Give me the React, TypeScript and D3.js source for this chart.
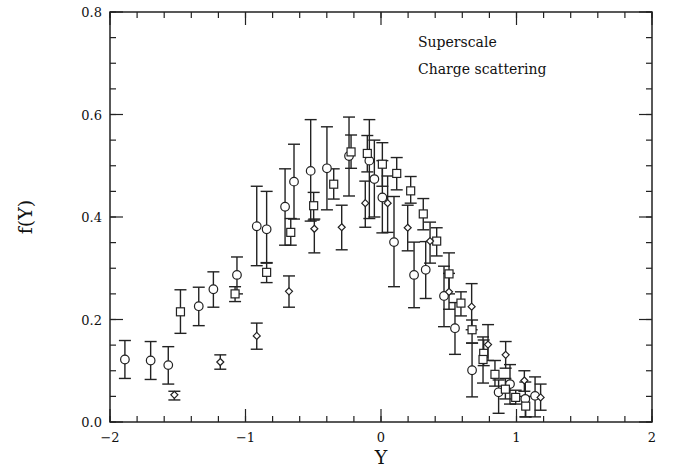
import React from "react";
import * as d3 from "d3";

const xTicks = [-2, -1, 0, 1, 2];
const yTicks = [0.0, 0.2, 0.4, 0.6, 0.8];
const legendLines = ["Superscale", "Charge scattering"];

// [x, y, low, high]
const circles: number[][] = [
  [-1.89, 0.122, 0.085, 0.159],
  [-1.70, 0.120, 0.083, 0.157],
  [-1.57, 0.111, 0.074, 0.147],
  [-1.345, 0.226, 0.188, 0.263],
  [-1.237, 0.259, 0.224, 0.293],
  [-1.063, 0.287, 0.25, 0.322],
  [-0.917, 0.382, 0.305, 0.46],
  [-0.844, 0.376, 0.311, 0.45],
  [-0.708, 0.42, 0.345, 0.494],
  [-0.642, 0.469, 0.396, 0.542],
  [-0.519, 0.49, 0.392, 0.59],
  [-0.399, 0.495, 0.414, 0.576],
  [-0.236, 0.519, 0.441, 0.595],
  [-0.086, 0.51, 0.397, 0.59],
  [-0.049, 0.474, 0.40, 0.55],
  [0.01, 0.438, 0.369, 0.51],
  [0.096, 0.351, 0.264, 0.44],
  [0.244, 0.287, 0.223, 0.351],
  [0.33, 0.297, 0.241, 0.352],
  [0.465, 0.246, 0.186, 0.304],
  [0.546, 0.183, 0.132, 0.233],
  [0.672, 0.101, 0.049, 0.154],
  [0.868, 0.058, 0.017, 0.082],
  [0.952, 0.074, 0.035, 0.112],
  [1.065, 0.045, 0.01, 0.078],
  [1.137, 0.051, 0.01, 0.088],
];

const squares: number[][] = [
  [-1.48, 0.215, 0.173, 0.258],
  [-1.077, 0.25, 0.235, 0.264],
  [-0.844, 0.292, 0.272, 0.31],
  [-0.666, 0.37, 0.345, 0.397],
  [-0.497, 0.422, 0.394, 0.448],
  [-0.349, 0.464, 0.435, 0.494],
  [-0.221, 0.527, 0.495, 0.56],
  [-0.101, 0.524, 0.488, 0.559],
  [0.01, 0.503, 0.46, 0.545],
  [0.116, 0.485, 0.453, 0.516],
  [0.219, 0.451, 0.427, 0.479],
  [0.312, 0.406, 0.375, 0.436],
  [0.411, 0.353, 0.324, 0.379],
  [0.502, 0.289, 0.25, 0.33],
  [0.59, 0.232, 0.207, 0.254],
  [0.672, 0.18, 0.154, 0.199],
  [0.758, 0.134, 0.11, 0.16],
  [0.753, 0.122, 0.076, 0.166],
  [0.841, 0.093, 0.07, 0.12],
  [0.918, 0.064, 0.045, 0.085],
  [0.994, 0.048, 0.035, 0.062],
  [1.068, 0.031, 0.01, 0.05],
];

const diamonds: number[][] = [
  [-1.525, 0.053, 0.043, 0.06],
  [-1.186, 0.117, 0.103, 0.131],
  [-0.917, 0.168, 0.142, 0.193],
  [-0.679, 0.255, 0.224, 0.285],
  [-0.492, 0.377, 0.33, 0.396],
  [-0.29, 0.38, 0.336, 0.423],
  [-0.116, 0.427, 0.38, 0.47],
  [0.049, 0.427, 0.37, 0.48],
  [0.197, 0.379, 0.334, 0.423],
  [0.362, 0.353, 0.31, 0.39],
  [0.502, 0.254, 0.22, 0.29],
  [0.669, 0.225, 0.18, 0.27],
  [0.79, 0.151, 0.12, 0.19],
  [0.92, 0.131, 0.105, 0.157],
  [1.058, 0.081, 0.06, 0.1],
  [1.178, 0.048, 0.023, 0.074],
];

const W = 673, H = 470;
const L = 110, R = 652, T = 12, B = 422;
const font = "'DejaVu Serif', serif";

export default function App() {
  const x = d3.scaleLinear().domain([-2, 2]).range([L, R]);
  const y = d3.scaleLinear().domain([0, 0.8]).range([B, T]);
  const xMinor = d3.range(-2, 2.0001, 0.2);
  const yMinor = d3.range(0, 0.8001, 0.05);
  const stroke = "#222";
  const cap = 6;

  const errBar = (d: number[], i: number, k: string) => (
    <g key={k + i} stroke={stroke} strokeWidth={1.4}>
      <line x1={x(d[0])} x2={x(d[0])} y1={y(d[2])} y2={y(d[3])} />
      <line x1={x(d[0]) - cap} x2={x(d[0]) + cap} y1={y(d[2])} y2={y(d[2])} />
      <line x1={x(d[0]) - cap} x2={x(d[0]) + cap} y1={y(d[3])} y2={y(d[3])} />
    </g>
  );

  return (
    <svg width={W} height={H} style={{ position: "absolute", left: 0, top: 0, background: "#fff" }}>
      <rect x={0} y={0} width={W} height={H} fill="#fff" />
      <g stroke={stroke} strokeWidth={1.2}>
        {xMinor.map((v, i) => (
          <g key={"xm" + i}>
            <line x1={x(v)} x2={x(v)} y1={B} y2={B - 6} />
            <line x1={x(v)} x2={x(v)} y1={T} y2={T + 6} />
          </g>
        ))}
        {yMinor.map((v, i) => (
          <g key={"ym" + i}>
            <line x1={L} x2={L + 6} y1={y(v)} y2={y(v)} />
            <line x1={R} x2={R - 6} y1={y(v)} y2={y(v)} />
          </g>
        ))}
        {xTicks.map((v, i) => (
          <g key={"xM" + i}>
            <line x1={x(v)} x2={x(v)} y1={B} y2={B - 13} />
            <line x1={x(v)} x2={x(v)} y1={T} y2={T + 13} />
          </g>
        ))}
        {yTicks.map((v, i) => (
          <g key={"yM" + i}>
            <line x1={L} x2={L + 13} y1={y(v)} y2={y(v)} />
            <line x1={R} x2={R - 13} y1={y(v)} y2={y(v)} />
          </g>
        ))}
      </g>
      <rect x={L} y={T} width={R - L} height={B - T} fill="none" stroke={stroke} strokeWidth={1.5} />
      {xTicks.map((v, i) => (
        <text key={"xl" + i} x={x(v)} y={B + 20} textAnchor="middle" fontFamily={font} fontSize={13} fill="#111">
          {v < 0 ? "\u2212" + Math.abs(v) : String(v)}
        </text>
      ))}
      {yTicks.map((v, i) => (
        <text key={"yl" + i} x={L - 8} y={y(v) + 5} textAnchor="end" fontFamily={font} fontSize={13} fill="#111">
          {v.toFixed(1)}
        </text>
      ))}
      <text x={x(0)} y={464} textAnchor="middle" fontFamily={font} fontSize={19} fill="#111">Y</text>
      <text transform={`translate(32, ${y(0.4)}) rotate(-90)`} textAnchor="middle" fontFamily={font} fontSize={19} fill="#111">f(Y)</text>
      {legendLines.map((s, i) => (
        <text key={"lg" + i} x={418} y={47 + i * 27} fontFamily={font} fontSize={14} fill="#111">{s}</text>
      ))}
      {circles.map((d, i) => errBar(d, i, "ce"))}
      {squares.map((d, i) => errBar(d, i, "se"))}
      {diamonds.map((d, i) => errBar(d, i, "de"))}
      {circles.map((d, i) => (
        <circle key={"c" + i} cx={x(d[0])} cy={y(d[1])} r={4.3} fill="#fff" stroke={stroke} strokeWidth={1.2} />
      ))}
      {squares.map((d, i) => (
        <rect key={"s" + i} x={x(d[0]) - 4} y={y(d[1]) - 4} width={8} height={8} fill="#fff" stroke={stroke} strokeWidth={1.2} />
      ))}
      {diamonds.map((d, i) => (
        <path key={"d" + i}
          d={`M${x(d[0])},${y(d[1]) - 3.5} L${x(d[0]) + 3.5},${y(d[1])} L${x(d[0])},${y(d[1]) + 3.5} L${x(d[0]) - 3.5},${y(d[1])} Z`}
          fill="#fff" stroke={stroke} strokeWidth={1.2} />
      ))}
    </svg>
  );
}
